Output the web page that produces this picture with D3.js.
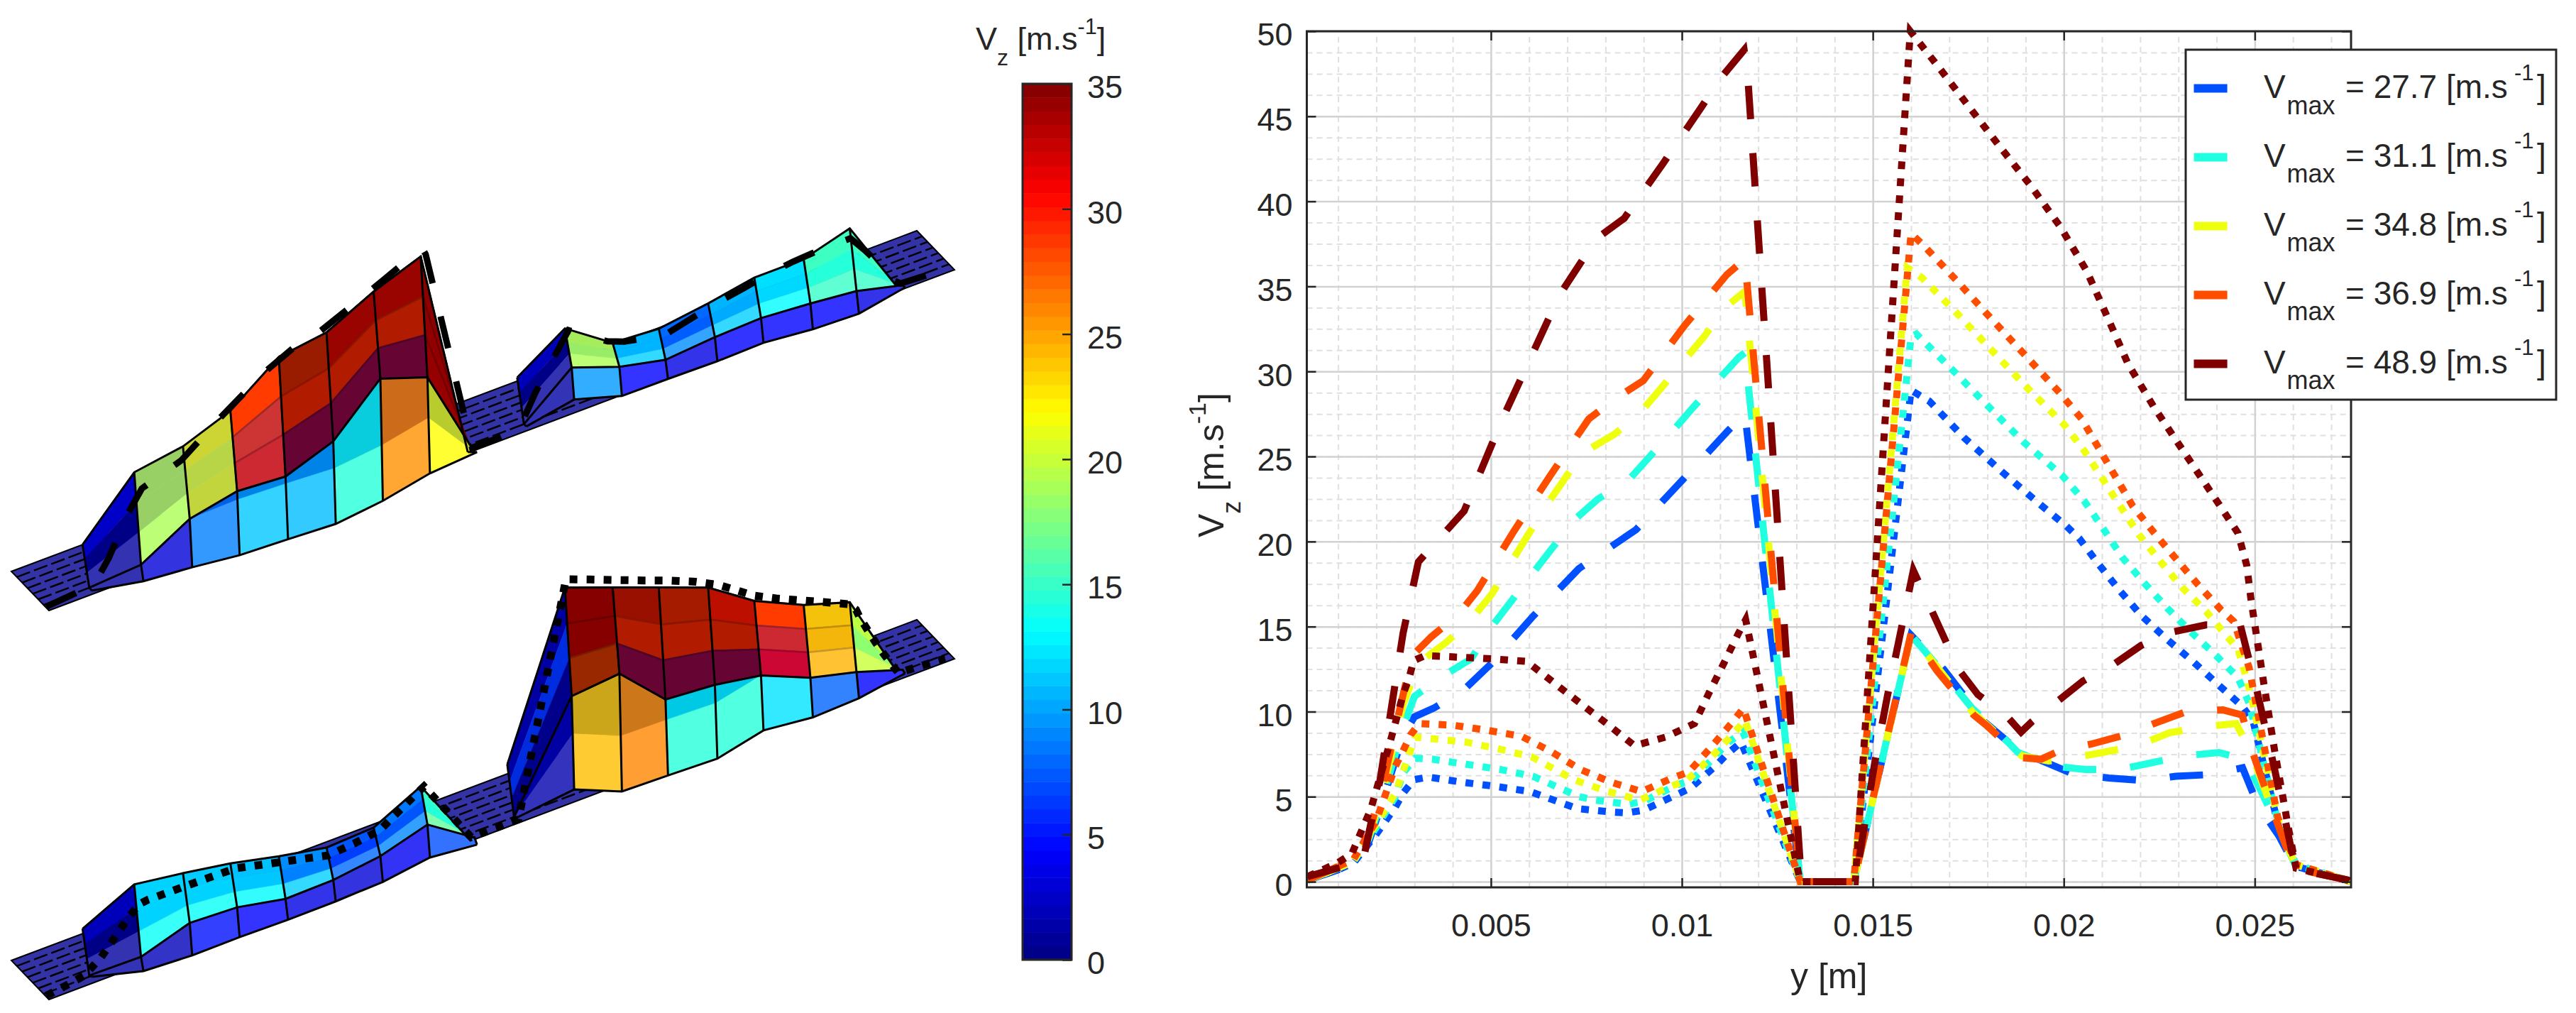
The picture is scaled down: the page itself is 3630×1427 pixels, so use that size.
<!DOCTYPE html>
<html>
<head>
<meta charset="utf-8">
<script src="https://cdn.jsdelivr.net/npm/d3@7"></script>
<style>
  body { margin: 0; background: #fff; }
  text { font-family: "Liberation Sans", Arial, sans-serif; fill: #262626; }
</style>
</head>
<body>
<div id="wrapper"></div>
<script>
// Profiles: [y in m, Vz in m/s]
var dashBlue = [[.0002,.1],[.001,.7],[.0014,1.1],[.0018,2.3],[.0022,5],[.0027,8.6],[.003,9.7],[.0035,10.2],[.0043,11.3],[.005,12.8],[.0061,15.6],[.0073,18.4],[.0088,20.7],[.0103,24.3],[.0112,26.5],[.01165,27.5],[.0131,0],[.0145,0],[.016,14.5],[.01685,12.5],[.01747,10.7],[.01792,9.4],[.01882,7.7],[.01933,7.2],[.02028,6.3],[.02118,6.1],[.02209,5.95],[.02293,6.2],[.02383,6.3],[.02468,6.7],[.02507,4.55],[.02563,2.7],[.02608,.8],[.02744,.1],[.0275,0]];
var dashCyan = [[.0002,.1],[.001,.8],[.0014,1.2],[.0018,2.5],[.0022,5.2],[.0027,9.1],[.003,10.9],[.00375,12.1],[.00448,13.1],[.00502,15],[.0066,19.6],[.0072,21.3],[.0078,22.5],[.00856,23.5],[.0097,26.35],[.0103,27.9],[.0115,30.85],[.01165,31.1],[.0131,0],[.0145,0],[.016,14.5],[.0168,12.4],[.0176,10.2],[.0182,9],[.0188,7.6],[.01972,6.8],[.02056,6.6],[.02147,6.6],[.02231,7],[.02316,7.4],[.02406,7.6],[.02473,7.2],[.02513,5.5],[.02563,3.1],[.02608,.9],[.0274,.1],[.0275,0]];
var dashYellow = [[.0002,.1],[.001,.8],[.0014,1.2],[.0018,2.6],[.0022,5.6],[.0027,10.4],[.0031,12.85],[.00383,14.07],[.00448,15.4],[.00502,16.9],[.00641,22],[.0074,25.2],[.00823,26.3],[.00888,27.5],[.00945,29],[.0106,32.1],[.0111,33.7],[.01165,34.7],[.0131,0],[.0145,0],[.016,14.5],[.0168,12.3],[.0176,10],[.0182,8.8],[.0189,7.4],[.0196,7.1],[.02017,7.26],[.02102,7.6],[.02192,8],[.02276,8.75],[.02361,9.1],[.02451,9.3],[.0249,7.6],[.0256,3.4],[.02608,.9],[.0274,.1],[.0275,0]];
var dashOrange = [[.0002,.1],[.001,.9],[.0014,1.3],[.0018,2.8],[.0022,6],[.00267,10.7],[.00295,13.3],[.00344,14.4],[.00414,15.7],[.00464,17.1],[.0056,20.6],[.00656,23.9],[.00756,27.2],[.00826,28.4],[.00899,29.46],[.01007,32.7],[.01118,35.7],[.01165,36.6],[.0131,0],[.0145,0],[.016,14.6],[.01668,12.4],[.01764,9.8],[.01797,9.2],[.01888,7.3],[.0194,7.2],[.01989,7.7],[.02073,8.1],[.02164,8.65],[.02248,9.4],[.02327,10.05],[.02417,10.1],[.02467,9.8],[.02496,7.5],[.02563,3.2],[.02603,.8],[.0274,.1],[.0275,0]];
var dashDark = [[.0002,.3],[.0013,1],[.00165,1.2],[.0021,6],[.0027,14.6],[.0031,18.8],[.0043,21.8],[.0053,27.2],[.0068,34.5],[.00776,37.8],[.00849,39],[.0095,42.2],[.0105,45.5],[.011,47.2],[.01163,48.9],[.01172,47.5],[.01313,0],[.01454,0],[.01505,7],[.01538,10.9],[.01606,18.3],[.01651,16.1],[.01724,12.5],[.01775,11],[.01848,9.8],[.01888,8.8],[.01916,9.4],[.0205,11.8],[.02135,12.85],[.02203,13.9],[.02287,14.7],[.02372,15.1],[.02462,15.1],[.02507,11.1],[.02552,6.6],[.02597,1.75],[.02614,.7],[.02744,.1],[.0275,0]];

var dotBlue = [[.0002,.1],[.001,.7],[.0014,1.1],[.002,2.8],[.0025,4.4],[.0027,5.2],[.00298,6],[.00337,6.15],[.00425,5.85],[.00514,5.6],[.00603,5.3],[.00683,4.65],[.00726,4.3],[.00815,4.1],[.00856,4.05],[.00899,4.2],[.00942,4.65],[.01022,5.5],[.01088,6.8],[.01118,7.5],[.01155,8.2],[.0131,0],[.0145,0],[.016,28.9],[.01648,28.25],[.01739,26.1],[.01838,24.1],[.01937,22.2],[.02007,20.9],[.0204,20.2],[.0209,18.7],[.02147,17.1],[.02203,15.65],[.0227,14.25],[.02338,12.95],[.02406,11.55],[.02468,10.3],[.02496,9.4],[.02563,3.2],[.02608,.9],[.0274,.1],[.0275,0]];
var dotCyan = [[.0002,.1],[.001,.8],[.0014,1.2],[.002,3.2],[.0025,5],[.0027,6.4],[.00302,7.26],[.00348,7.2],[.00437,6.9],[.00525,6.6],[.0061,6.2],[.00691,5.4],[.00731,5],[.00774,4.8],[.0086,4.55],[.00903,4.75],[.00988,5.7],[.01026,5.95],[.01092,7.5],[.01122,8.2],[.0116,8.8],[.0131,0],[.0145,0],[.016,32.05],[.01614,32.2],[.01708,30.1],[.01802,27.95],[.01897,25.8],[.01995,23.9],[.02053,22.4],[.02102,20.8],[.02152,19.1],[.02209,17.6],[.0227,16.1],[.02332,14.7],[.02394,13.4],[.02456,12],[.02485,10.5],[.0256,3.6],[.02608,1],[.0274,.1],[.0275,0]];
var dotYellow = [[.0002,.1],[.001,.8],[.0014,1.2],[.002,3.4],[.0025,5.2],[.00275,6.8],[.00302,8.5],[.0035,8.4],[.00437,8.2],[.00522,7.8],[.00606,7.35],[.00684,6.4],[.00723,5.95],[.00807,5.3],[.0089,4.8],[.0097,5.6],[.01012,5.95],[.01076,7.3],[.01137,8.75],[.01165,9.5],[.0131,0],[.0145,0],[.0159,36.1],[.01629,35.5],[.01721,33.4],[.01813,31.2],[.01906,29],[.02,26.9],[.02053,25.35],[.02101,23.7],[.02147,22.1],[.02197,20.4],[.02254,18.8],[.0231,17.3],[.02372,15.9],[.02428,14.4],[.02456,13.7],[.0249,11],[.0256,3.7],[.02608,1],[.0274,.1],[.0275,0]];
var dotOrange = [[.0002,.1],[.001,.9],[.0014,1.3],[.002,3.6],[.0025,6.8],[.0027,7.7],[.0029,8.65],[.00313,9.3],[.00402,9.2],[.00491,8.9],[.0058,8.55],[.00656,7.67],[.00734,6.6],[.00813,5.86],[.00895,5.3],[.00975,6.1],[.01018,6.45],[.01076,7.9],[.01133,9.4],[.01161,10.2],[.0131,0],[.0145,0],[.016,38.1],[.01629,37.5],[.01721,35.3],[.0181,33.1],[.01901,30.9],[.01991,28.7],[.02047,27.2],[.02091,25.5],[.02137,23.75],[.0218,22.1],[.02237,20.5],[.02293,19],[.0235,17.5],[.02411,16],[.02445,15.3],[.02485,12.6],[.0256,3.8],[.02608,1],[.0274,.1],[.0275,0]];
var dotDark = [[.0002,.3],[.00098,1.1],[.00136,1.65],[.00186,4.3],[.00236,8.2],[.0027,11],[.00286,12],[.00298,13],[.00328,13.3],[.00417,13.2],[.00506,13.1],[.00594,12.95],[.00699,11.1],[.00803,9.3],[.00876,8],[.00957,8.5],[.01033,9.3],[.01071,11.1],[.0111,12.85],[.01148,14.6],[.01167,15.4],[.0131,0],[.01454,0],[.01598,50],[.01672,47.9],[.01752,45.55],[.01833,43.2],[.01914,40.9],[.01991,38.5],[.0206,35.9],[.02114,33.2],[.02168,30.45],[.02236,27.9],[.02406,22.2],[.02456,20.5],[.02479,18.6],[.0249,16.6],[.02524,11.6],[.02552,7.7],[.02586,3.4],[.02608,.8],[.0274,.1],[.0275,0]];

var legendValues = ["27.7", "31.1", "34.8", "36.9", "48.9"];
var seriesColors = ["#0050ff", "#20ffdf", "#efff10", "#ff4d00", "#800000"];

var xTicks = [0.005, 0.01, 0.015, 0.02, 0.025];
var yTicks = d3.range(0, 51, 5);
var xMinor = d3.range(0.001, 0.0275, 0.001);
var yMinor = d3.range(0, 50.1, 1.25);
var barTicks = [0, 5, 10, 15, 20, 25, 30, 35];

// Surface stations along y (m), one ramp cell then seven mesh cells per hump
var stationsLeft = [.0013, .00287, .00435, .00579, .00726, .00871, .01014, .01157, .013];
var stationsRight = [.0145, .01595, .0174, .0188, .0203, .0217, .0232, .0246, .026];
var stationsRightTall = [.0142, .01595, .0174, .0188, .0203, .0217, .0232, .0246, .026];

// Heights of the three mesh rows at each station
var p1h1Bottom = [.85, -1.4, -2.4, -3.7, -4.2, -4.8, -3.6, -1.4, -.6];
var p1h1Rim = [1.5, 2.3, 8.5, 10.7, 9.9, 13.8, 23.9, 20.2, -.6];
var p1h1Top = [11.2, 23.1, 24.8, 28.8, 36.8, 38.3, 43.5, 47.4, -.6];
var p1h2Bottom = [1, 3, -.25, -.3, -.5, -.25, -1.4, -1.8, .2];
var p1h2Rim = [1.5, 10.2, 6.3, 4, 4.9, 5.3, 4.4, 3.3, .7];
var p1h2Top = [12, 19, 11.7, 11, 12.5, 14.4, 14.4, 17.4, .7];
var p2h1Bottom = [1.5, -1.6, -2.2, -2.1, -2.3, -2.2, -1.8, -.3, -1.4];
var p2h1Rim = [1.8, 1.6, 5.1, 4.6, 2.4, 2.6, 4, 7.1, .2];
var p2h1Top = [12.3, 17.9, 16.3, 14.5, 12, 9.9, 10.4, 15.7, .2];
var p2h2Bottom = [1.3, 2.8, -1.7, -2, -2.4, .06, -1.2, -.8, .9];
var p2h2Rim = [1.5, 23.8, 24.8, 15.1, 14.2, 12.4, 7.7, 5.1, 1.7];
var p2h2Top = [13.3, 48.2, 44.2, 40.3, 36.1, 29.2, 24.1, 20.8, 1.7];

// Vz per cell: lower sheet (2 bands), then upper sheet (3 bands), each with the value seen through it
// null = nothing behind it but the white page
var p1h1Cells = [
  [1, 1, 1, null, .3, 0, 3, 0],
  [3, 3, 19, null, 17.5, 30, 17.5, 30],
  [8.75, 8.5, 21.5, 6, 21, 6, 21.9, 6],
  [11.2, 10, 30, 9, 29.5, 9, 29, 27],
  [10.9, 10, 35, 5, 34, 26, 35, 26],
  [14.4, 13.5, 35, 5, 34, 26, 35, 30],
  [25.7, 26, 35, 5, 34, 26, 35, 30],
  [21.9, 21, 35, 31, 35, 32, 35, 33]
];
var p1h2Cells = [
  [1.2, 1.2, 1, null, .3, 0, 2.5, 0],
  [9.6, 9, 19, null, 17.5, 25, 18, 25],
  [4.4, 4.4, 11.5, null, 11, 9, 11, 9],
  [3.4, 3.4, 9.2, null, 8, 6, 8.5, 6],
  [4.4, 4.4, 11.5, null, 10.5, 9, 11, 9],
  [4.4, 4.4, 13.1, null, 12, 11, 12.3, 11],
  [4.4, 4.4, 15, null, 14.5, 14, 15, 16],
  [3.4, 3.4, 15, null, 14.5, 14, 15, 16]
];
var p2h1Cells = [
  [1.2, 1.2, 1, null, .3, 0, 2.5, 0],
  [2, 2, 13.4, null, 12.5, 8, 12.5, 8],
  [5, 5, 13.4, null, 12.5, 8, 12.2, 8],
  [4.4, 4.4, 13, null, 12, 8, 11.8, 8],
  [3.4, 3.4, 11.5, null, 9.5, 6, 10, 6],
  [3, 3, 8, null, 7, 4, 8, 4],
  [4, 4, 9, null, 8, 4, 9.5, 4],
  [7, 7, 16.5, null, 14.5, 14, 15, 14]
];
var p2h2Cells = [
  [1.5, 1.5, .4, 0, 3, 12, 1.5, 0],
  [24.1, 23.5, 35, 24, 35, 34, 35, 34],
  [26, 25.5, 35, 5, 34, 26, 35, 28],
  [14.4, 13, 35, 5, 34, 26, 34.5, 26],
  [14.4, 13, 35, 5, 34, 26, 33.5, 28],
  [12.2, 11, 30.5, 5, 30, 9, 29, 27],
  [7.8, 7.5, 24.5, null, 25, 20, 24.5, 20],
  [4.4, 4.4, 20, null, 19, 14, 19.5, 20]
];

var svg = d3.select("#wrapper")
  .append("svg")
  .attr("width", 3630)
  .attr("height", 1427);

// Jet colormap
var jet = d3.scaleLinear()
  .domain([0, 4.375, 13.125, 21.875, 30.625, 35])
  .range(["#000080", "#0000ff", "#00ffff", "#ffff00", "#ff0000", "#800000"])
  .clamp(true);

// Face alpha 0.8 over what is behind it
function faceColor(v, back) {
  return d3.interpolateRgb(jet(v), back === null ? "#ffffff" : jet(back))(0.2);
}

// ---- Left: the two pseudo 3D surfaces ----
var sx = d3.scaleLinear().domain([0, 0.0275]).range([69, 1345]);
var sy = d3.scaleLinear().domain([0, 0.0275]).range([860, 380]);
var sz = d3.scaleLinear().domain([0, 1]).range([0, 6.26]);
var rimShift = -3.5, topShift = -13;
var stripDepth = [-53, -55];
var stripRows = d3.range(1, 7).map(function (i) { return i / 7; });
var polyLine = d3.line();

function node(y, h, dx) {
  return [sx(y) + dx, sy(y) - sz(h)];
}
function mix(a, b, f) {
  return [a[0] + (b[0] - a[0]) * f, a[1] + (b[1] - a[1]) * f];
}

function drawStrip(g) {
  var a = node(0, 0, 0), b = node(0.0275, 0, 0);
  g.append("path")
    .attr("d", polyLine([a, b, [b[0] + stripDepth[0], b[1] + stripDepth[1]], [a[0] + stripDepth[0], a[1] + stripDepth[1]]]) + "Z")
    .attr("fill", faceColor(0.5, null))
    .attr("stroke", "#000")
    .attr("stroke-width", 2);
  g.selectAll(".stripRow")
    .data(stripRows)
    .enter()
    .append("line")
    .attr("x1", function (t) { return a[0] + stripDepth[0] * t; })
    .attr("y1", function (t) { return a[1] + stripDepth[1] * t; })
    .attr("x2", function (t) { return b[0] + stripDepth[0] * t; })
    .attr("y2", function (t) { return b[1] + stripDepth[1] * t; })
    .attr("stroke", "#000")
    .attr("stroke-width", 2.5)
    .attr("stroke-dasharray", "20 6");
}

function drawHump(g, stations, bottom, rim, top, cells) {
  var nb = stations.map(function (y, i) { return node(y, bottom[i], 0); });
  var nr = stations.map(function (y, i) { return node(y, rim[i], rimShift); });
  var nt = stations.map(function (y, i) { return node(y, top[i], topShift); });

  // contour inside the lower sheet sits a fixed height above the bottom row
  var split = stations.map(function (y, i) {
    var f = rim[i] - bottom[i] > 0 ? Math.min(12.5 / (rim[i] - bottom[i]), 1) : 1;
    return mix(nb[i], nr[i], f);
  });
  var u1 = nr.map(function (p, i) { return mix(p, nt[i], 0.35); });
  var u2 = nr.map(function (p, i) { return mix(p, nt[i], 0.67); });

  function bandData(lowRow, highRow, valueIndex) {
    return cells.map(function (c, i) {
      var v = c[valueIndex];
      var back = valueIndex === 0 ? null : (valueIndex === 1 ? 0 : c[valueIndex + 1]);
      var fill = faceColor(v, back);
      return {
        pts: [lowRow[i], lowRow[i + 1], highRow[i + 1], highRow[i]],
        fill: fill,
        // warm faces show a darker mesh through them
        edge: v >= 22 && valueIndex >= 2 ? d3.rgb(fill).darker(0.7) : fill,
        edgeWidth: v >= 22 && valueIndex >= 2 ? 2.5 : 0.6
      };
    });
  }
  var bands = []
    .concat(bandData(u2, nt, 6))
    .concat(bandData(u1, u2, 4))
    .concat(bandData(nr, u1, 2))
    .concat(bandData(split, nr, 1))
    .concat(bandData(nb, split, 0));

  g.append("g").selectAll("path")
    .data(bands)
    .enter()
    .append("path")
    .attr("d", function (d) { return polyLine(d.pts) + "Z"; })
    .attr("fill", function (d) { return d.fill; })
    .attr("stroke", function (d) { return d.edge; })
    .attr("stroke-width", function (d) { return d.edgeWidth; });

  // black mesh
  g.append("g").selectAll("path")
    .data(stations.map(function (y, i) { return [nb[i], nr[i], nt[i]]; }).concat([nb, nr, nt]))
    .enter()
    .append("path")
    .attr("d", polyLine)
    .attr("fill", "none")
    .attr("stroke", "#000")
    .attr("stroke-width", 3);
}

function drawProfile(g, data, dash, width) {
  g.append("path")
    .attr("d", polyLine(data.map(function (d) { return node(d[0], d[1], topShift); })))
    .attr("fill", "none")
    .attr("stroke", "#000")
    .attr("stroke-width", width)
    .attr("stroke-dasharray", dash);
}

var panel1 = svg.append("g");
drawStrip(panel1);
drawHump(panel1, stationsRight, p1h2Bottom, p1h2Rim, p1h2Top, p1h2Cells);
drawHump(panel1, stationsLeft, p1h1Bottom, p1h1Rim, p1h1Top, p1h1Cells);
drawProfile(panel1, dashDark, "46 48", 9);

var panel2 = svg.append("g").attr("transform", "translate(0,548)");
drawStrip(panel2);
drawHump(panel2, stationsRightTall, p2h2Bottom, p2h2Rim, p2h2Top, p2h2Cells);
drawHump(panel2, stationsLeft, p2h1Bottom, p2h1Rim, p2h1Top, p2h1Cells);
drawProfile(panel2, dotDark, "11 13", 11);

// ---- Colorbar ----
var barLeft = 1441, barRight = 1510, barTop = 118, barBottom = 1352;
var barSteps = d3.range(64);
var barBand = d3.scaleBand().domain(barSteps).range([barBottom, barTop]);
var barScale = d3.scaleLinear().domain([0, 35]).range([barBottom, barTop]);

svg.append("g").selectAll("rect")
  .data(barSteps)
  .enter()
  .append("rect")
  .attr("x", barLeft)
  .attr("width", barRight - barLeft)
  .attr("y", function (d) { return barBand(d); })
  .attr("height", barBand.bandwidth() + 0.5)
  .attr("fill", function (d) { return jet((d + 0.5) / 64 * 35); });

svg.append("rect")
  .attr("x", barLeft)
  .attr("y", barTop)
  .attr("width", barRight - barLeft)
  .attr("height", barBottom - barTop)
  .attr("fill", "none")
  .attr("stroke", "#262626")
  .attr("stroke-width", 3);

var barAxis = svg.append("g")
  .attr("transform", "translate(" + barRight + ",0)")
  .call(d3.axisRight(barScale).tickValues(barTicks).tickSizeInner(-13).tickSizeOuter(0).tickPadding(22));
barAxis.select(".domain").remove();
barAxis.selectAll("line").attr("stroke", "#262626").attr("stroke-width", 2.5);
barAxis.selectAll("text").style("font-size", "45px").attr("fill", "#262626")
  .attr("dy", "0.44em");

function unitText(sel, x, y, lead, sub, subSize, size, tail) {
  var t = sel.append("text").attr("x", x).attr("y", y).style("font-size", size + "px");
  t.append("tspan").text(lead);
  t.append("tspan").attr("dy", size * 0.48).style("font-size", subSize + "px").text(sub);
  t.append("tspan").attr("dy", -size * 0.48).text(tail);
  t.append("tspan").attr("dy", -size * 0.5).style("font-size", size * 0.68 + "px").text("-1");
  t.append("tspan").attr("dy", size * 0.5).text("]");
  return t;
}

unitText(svg, 1375, 70, "V", "z", 32, 45, " [m.s");

// ---- Right: line plot ----
var plotLeft = 1841.5, plotRight = 3313, plotTop = 44, plotBottom = 1250;
var x = d3.scaleLinear().domain([0.00018, 0.02752]).range([plotLeft, plotRight]);
var y = d3.scaleLinear().domain([-0.33, 50]).range([plotBottom, plotTop]);
var plotW = plotRight - plotLeft, plotH = plotBottom - plotTop;

// Minor grid
var minorX = svg.append("g")
  .attr("transform", "translate(0," + plotBottom + ")")
  .call(d3.axisBottom(x).tickValues(xMinor).tickSize(-plotH).tickFormat(""));
var minorY = svg.append("g")
  .attr("transform", "translate(" + plotLeft + ",0)")
  .call(d3.axisLeft(y).tickValues(yMinor).tickSize(-plotW).tickFormat(""));
[minorX, minorY].forEach(function (g) {
  g.select(".domain").remove();
  g.selectAll("line")
    .attr("stroke", "#e0e0e0")
    .attr("stroke-width", 2)
    .attr("stroke-dasharray", "8 6");
});

// Major grid
var majorX = svg.append("g")
  .attr("transform", "translate(0," + plotBottom + ")")
  .call(d3.axisBottom(x).tickValues(xTicks).tickSize(-plotH).tickFormat(""));
var majorY = svg.append("g")
  .attr("transform", "translate(" + plotLeft + ",0)")
  .call(d3.axisLeft(y).tickValues(yTicks).tickSize(-plotW).tickFormat(""));
[majorX, majorY].forEach(function (g) {
  g.select(".domain").remove();
  g.selectAll("line").attr("stroke", "#d2d2d2").attr("stroke-width", 2.5);
});

// Series, dashed and dotted pair per speed
var lineGen = d3.line()
  .x(function (d) { return x(d[0]); })
  .y(function (d) { return y(d[1]); });

var seriesPairs = [
  [dashBlue, dotBlue], [dashCyan, dotCyan], [dashYellow, dotYellow], [dashOrange, dotOrange], [dashDark, dotDark]
];
seriesPairs.forEach(function (pair, i) {
  svg.append("path")
    .attr("d", lineGen(pair[0]))
    .attr("fill", "none")
    .attr("stroke", seriesColors[i])
    .attr("stroke-width", 10)
    .attr("stroke-dasharray", "47 48");
  svg.append("path")
    .attr("d", lineGen(pair[1]))
    .attr("fill", "none")
    .attr("stroke", seriesColors[i])
    .attr("stroke-width", 10)
    .attr("stroke-dasharray", "11 13");
});

// Box and ticks
svg.append("rect")
  .attr("x", plotLeft)
  .attr("y", plotTop)
  .attr("width", plotW)
  .attr("height", plotH)
  .attr("fill", "none")
  .attr("stroke", "#262626")
  .attr("stroke-width", 3);

var axisB = svg.append("g")
  .attr("transform", "translate(0," + plotBottom + ")")
  .call(d3.axisBottom(x).tickValues(xTicks).tickSizeInner(-13).tickSizeOuter(0).tickPadding(37).tickFormat(d3.format("~g")));
var axisL = svg.append("g")
  .attr("transform", "translate(" + plotLeft + ",0)")
  .call(d3.axisLeft(y).tickValues(yTicks).tickSizeInner(-13).tickSizeOuter(0).tickPadding(20));
var axisT = svg.append("g")
  .attr("transform", "translate(0," + plotTop + ")")
  .call(d3.axisTop(x).tickValues(xTicks).tickSizeInner(-13).tickSizeOuter(0).tickFormat(""));
var axisR = svg.append("g")
  .attr("transform", "translate(" + plotRight + ",0)")
  .call(d3.axisRight(y).tickValues(yTicks).tickSizeInner(-13).tickSizeOuter(0).tickFormat(""));
[axisB, axisL, axisT, axisR].forEach(function (g) {
  g.select(".domain").remove();
  g.selectAll("line").attr("stroke", "#262626").attr("stroke-width", 2.5);
  g.selectAll("text").style("font-size", "45px").attr("fill", "#262626");
});
axisL.selectAll("text").attr("dy", "0.44em");

svg.append("text")
  .attr("x", (plotLeft + plotRight) / 2)
  .attr("y", 1392)
  .style("font-size", "50px")
  .style("text-anchor", "middle")
  .text("y [m]");

var yLabel = svg.append("g").attr("transform", "translate(1724,757) rotate(-90)");
unitText(yLabel, 0, 0, "V", "z", 36, 50, " [m.s");

// Legend
var legendRow = d3.scalePoint().domain(legendValues).range([124.5, 512.4]);
svg.append("rect")
  .attr("x", 3080)
  .attr("y", 70)
  .attr("width", 522)
  .attr("height", 493)
  .attr("fill", "#fff")
  .attr("stroke", "#262626")
  .attr("stroke-width", 3);

var legend = svg.append("g").selectAll("g")
  .data(legendValues)
  .enter()
  .append("g")
  .attr("transform", function (d) { return "translate(0," + legendRow(d) + ")"; });

legend.append("line")
  .attr("x1", 3091.5)
  .attr("x2", 3138.6)
  .attr("stroke", function (d, i) { return seriesColors[i]; })
  .attr("stroke-width", 12);

legend.append("text").attr("x", 3190).attr("y", 13.5).style("font-size", "46px").text("V");
legend.append("text").attr("x", 3222.5).attr("y", 36).style("font-size", "36px").text("max");
legend.append("text").attr("x", 3305).attr("y", 13.5).style("font-size", "46px")
  .text(function (d) { return "= " + d + " [m.s"; });
legend.append("text").attr("x", 3543).attr("y", -12).style("font-size", "31px").text("-1");
legend.append("text").attr("x", 3575).attr("y", 13.5).style("font-size", "46px").text("]");
</script>
</body>
</html>
